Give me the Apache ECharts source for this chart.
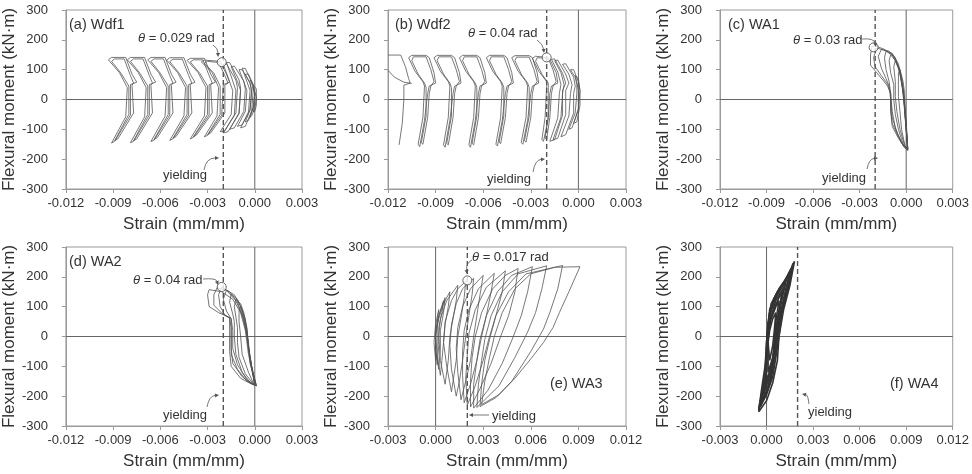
<!DOCTYPE html>
<html><head><meta charset="utf-8">
<script src="https://cdn.jsdelivr.net/npm/echarts@6/dist/echarts.min.js"></script>
<style>html,body{margin:0;padding:0;background:#fff}#c{width:972px;height:474px}</style>
</head><body><div id="c"></div>
<script>
const FONT = '"Liberation Sans", Arial, sans-serif';
const xRangeNeg = [-0.012, 0.003];
const xRangePos = [-0.003, 0.012];
const yRange = [-300, 300];
const xStep = 0.003, yStep = 100;
const xTitle = 'Strain (mm/mm)';
const yTitle = 'Flexural moment (kN·m)';

// (a) Wdf1
const wdf1Loops = [
 [[-0.0091,-146],[-0.0082,-58],[-0.0081,40],[-0.0086,90],[-0.0093,133],[-0.0091,141],[-0.0082,141],[-0.0078,85],[-0.0075,58],[-0.0079,50],[-0.0079,-52],[-0.0089,-140],[-0.0091,-146]],
 [[-0.0089,-138],[-0.0080,-50],[-0.0080,45],[-0.0085,88],[-0.0091,128],[-0.0089,136],[-0.0083,136],[-0.0079,80],[-0.0077,55],[-0.0078,48],[-0.0077,-45],[-0.0087,-132],[-0.0089,-138]],
 [[-0.0079,-145],[-0.0070,-58],[-0.0069,40],[-0.0074,90],[-0.0081,133],[-0.0079,141],[-0.0070,141],[-0.0066,85],[-0.0063,58],[-0.0067,50],[-0.0067,-52],[-0.0077,-140],[-0.0079,-145]],
 [[-0.0077,-138],[-0.0068,-50],[-0.0068,45],[-0.0073,88],[-0.0079,128],[-0.0077,136],[-0.0071,136],[-0.0067,80],[-0.0065,55],[-0.0066,48],[-0.0065,-45],[-0.0075,-132],[-0.0077,-138]],
 [[-0.0066,-141],[-0.0057,-56],[-0.0056,40],[-0.0061,90],[-0.0068,133],[-0.0066,141],[-0.0057,141],[-0.0053,85],[-0.0050,58],[-0.0054,50],[-0.0054,-52],[-0.0064,-136],[-0.0066,-141]],
 [[-0.0064,-134],[-0.0055,-50],[-0.0055,45],[-0.0060,88],[-0.0066,128],[-0.0064,136],[-0.0058,136],[-0.0054,80],[-0.0052,55],[-0.0053,48],[-0.0052,-45],[-0.0062,-128],[-0.0064,-134]],
 [[-0.0054,-137],[-0.0045,-55],[-0.0044,40],[-0.0049,90],[-0.0056,132],[-0.0054,140],[-0.0045,140],[-0.0041,85],[-0.0038,58],[-0.0042,50],[-0.0042,-52],[-0.0052,-132],[-0.0054,-137]],
 [[-0.0052,-130],[-0.0043,-50],[-0.0043,45],[-0.0048,88],[-0.0054,127],[-0.0052,135],[-0.0046,135],[-0.0042,80],[-0.0040,55],[-0.0041,48],[-0.0040,-45],[-0.0050,-124],[-0.0052,-130]],
 [[-0.0041,-132],[-0.0032,-55],[-0.0031,40],[-0.0036,90],[-0.0043,131],[-0.0041,138],[-0.0032,138],[-0.0028,85],[-0.0025,58],[-0.0029,50],[-0.0029,-52],[-0.0039,-127],[-0.0041,-132]],
 [[-0.0039,-125],[-0.0030,-50],[-0.0030,45],[-0.0035,88],[-0.0041,126],[-0.0039,133],[-0.0033,133],[-0.0029,80],[-0.0027,55],[-0.0028,48],[-0.0027,-45],[-0.0037,-119],[-0.0039,-125]],
 [[-0.0032,-125],[-0.0024,-55],[-0.0023,40],[-0.0027,90],[-0.0034,126],[-0.0032,132],[-0.0022,128],[-0.0018,85],[-0.0016,58],[-0.0020,50],[-0.0021,-52],[-0.0030,-120],[-0.0032,-125]],
 [[-0.0030,-118],[-0.0022,-50],[-0.0022,45],[-0.0026,88],[-0.0032,122],[-0.0030,128],[-0.0023,124],[-0.0019,80],[-0.0017,55],[-0.0019,48],[-0.0019,-45],[-0.0028,-112],[-0.0030,-118]],
 [[-0.0022,-108],[-0.0015,-50],[-0.0014,30],[-0.0016,60],[-0.0020,118],[-0.0018,120],[-0.0012,65],[-0.0011,40],[-0.0012,-45],[-0.0019,-105],[-0.0022,-108]],
 [[-0.0020,-112],[-0.0013,-52],[-0.0012,30],[-0.0014,62],[-0.0018,124],[-0.0016,124],[-0.0010,66],[-0.0009,38],[-0.0010,-48],[-0.0017,-108],[-0.0020,-112]],
 [[-0.0016,-100],[-0.0010,-45],[-0.0009,30],[-0.0011,60],[-0.0015,110],[-0.0013,112],[-0.0007,62],[-0.0006,35],[-0.0007,-40],[-0.0013,-95],[-0.0016,-100]],
 [[-0.0011,-90],[-0.0006,-40],[-0.0005,30],[-0.0007,60],[-0.0010,100],[-0.0008,100],[-0.0003,55],[-0.0002,30],[-0.0003,-35],[-0.0008,-85],[-0.0011,-90]],
 [[-0.0009,-95],[-0.0004,-42],[-0.0003,30],[-0.0005,60],[-0.0008,105],[-0.0006,104],[-0.0002,58],[-0.0001,30],[-0.0002,-38],[-0.0006,-90],[-0.0009,-95]],
 [[-0.0006,-75],[-0.0003,-35],[-0.0002,25],[-0.0003,55],[-0.0006,85],[-0.0004,85],[-0.0001,50],[0.0000,20],[-0.0001,-30],[-0.0004,-70],[-0.0006,-75]],
 [[-0.0003,-60],[-0.0001,-25],[0.0000,20],[-0.0001,45],[-0.0003,65],[-0.0002,65],[0.0001,35],[0.0001,0],[0.0000,-30],[-0.0002,-55],[-0.0003,-60]],
 [[-0.0001,-40],[0.0000,-10],[0.0000,20],[-0.0001,40],[0.0000,40],[0.0001,10],[0.0001,-20],[0.0000,-40],[-0.0001,-40]]
];
const wdf1Theta = [-0.0021, 125];

// (b) Wdf2
const wdf2Loops = [
 [[-0.0120,149],[-0.0112,149],[-0.0109,110],[-0.0107,70],[-0.0106,55],[-0.0110,48],[-0.0110,0],[-0.0111,-80],[-0.0113,-152]],
 [[-0.0120,98],[-0.0116,75],[-0.0110,58],[-0.0105,54]],
 [[-0.0100,-158],[-0.0097,-70],[-0.0095,20],[-0.0094,45],[-0.0090,55],[-0.0091,90],[-0.0094,140],[-0.0096,148],[-0.0105,148],[-0.0107,140],[-0.0103,95],[-0.0098,60],[-0.0097,45],[-0.0098,-60],[-0.0101,-150],[-0.0100,-158]],
 [[-0.0098,-150],[-0.0095,-60],[-0.0094,20],[-0.0093,45],[-0.0091,60],[-0.0093,100],[-0.0096,143],[-0.0104,143],[-0.0105,130],[-0.0101,85],[-0.0097,55],[-0.0096,40],[-0.0096,-55],[-0.0099,-145],[-0.0098,-150]],
 [[-0.0084,-160],[-0.0081,-70],[-0.0079,20],[-0.0078,45],[-0.0074,55],[-0.0075,90],[-0.0078,140],[-0.0080,148],[-0.0089,148],[-0.0091,140],[-0.0087,95],[-0.0082,60],[-0.0081,45],[-0.0082,-60],[-0.0085,-152],[-0.0084,-160]],
 [[-0.0082,-152],[-0.0079,-60],[-0.0078,20],[-0.0077,45],[-0.0075,60],[-0.0077,100],[-0.0080,143],[-0.0088,143],[-0.0089,130],[-0.0085,85],[-0.0081,55],[-0.0080,40],[-0.0080,-55],[-0.0083,-147],[-0.0082,-152]],
 [[-0.0068,-160],[-0.0065,-70],[-0.0063,20],[-0.0062,45],[-0.0058,55],[-0.0059,90],[-0.0062,140],[-0.0064,148],[-0.0073,148],[-0.0075,140],[-0.0071,95],[-0.0066,60],[-0.0065,45],[-0.0066,-60],[-0.0069,-152],[-0.0068,-160]],
 [[-0.0066,-152],[-0.0063,-60],[-0.0062,20],[-0.0061,45],[-0.0059,60],[-0.0061,100],[-0.0064,143],[-0.0072,143],[-0.0073,130],[-0.0069,85],[-0.0065,55],[-0.0064,40],[-0.0064,-55],[-0.0067,-147],[-0.0066,-152]],
 [[-0.0051,-156],[-0.0048,-70],[-0.0046,20],[-0.0045,45],[-0.0041,55],[-0.0042,90],[-0.0045,140],[-0.0047,148],[-0.0056,148],[-0.0058,140],[-0.0054,95],[-0.0049,60],[-0.0048,45],[-0.0049,-60],[-0.0052,-150],[-0.0051,-156]],
 [[-0.0049,-148],[-0.0046,-60],[-0.0045,20],[-0.0044,45],[-0.0042,60],[-0.0044,100],[-0.0047,143],[-0.0055,143],[-0.0056,130],[-0.0052,85],[-0.0048,55],[-0.0047,40],[-0.0047,-55],[-0.0050,-143],[-0.0049,-148]],
 [[-0.0035,-150],[-0.0032,-70],[-0.0030,20],[-0.0029,45],[-0.0025,55],[-0.0026,90],[-0.0029,140],[-0.0031,147],[-0.0040,147],[-0.0042,140],[-0.0038,95],[-0.0033,60],[-0.0032,45],[-0.0033,-60],[-0.0036,-144],[-0.0035,-150]],
 [[-0.0033,-143],[-0.0030,-60],[-0.0029,20],[-0.0028,45],[-0.0026,60],[-0.0028,100],[-0.0031,142],[-0.0039,142],[-0.0040,130],[-0.0036,85],[-0.0032,55],[-0.0031,40],[-0.0031,-55],[-0.0034,-138],[-0.0033,-143]],
 [[-0.0022,-140],[-0.0019,-65],[-0.0018,20],[-0.0017,45],[-0.0013,55],[-0.0014,90],[-0.0018,135],[-0.0020,141],[-0.0027,145],[-0.0029,138],[-0.0025,95],[-0.0020,60],[-0.0020,45],[-0.0021,-60],[-0.0023,-135],[-0.0022,-140]],
 [[-0.0020,-134],[-0.0018,-60],[-0.0017,20],[-0.0016,45],[-0.0014,60],[-0.0016,100],[-0.0019,138],[-0.0026,140],[-0.0027,128],[-0.0023,85],[-0.0019,55],[-0.0019,40],[-0.0019,-55],[-0.0021,-130],[-0.0020,-134]],
 [[-0.0018,-140],[-0.0013,-62],[-0.0012,20],[-0.0011,50],[-0.0013,92],[-0.0017,135],[-0.0015,136],[-0.0010,88],[-0.0008,55],[-0.0010,30],[-0.0010,-52],[-0.0015,-135],[-0.0018,-140]],
 [[-0.0016,-135],[-0.0011,-60],[-0.0010,20],[-0.0009,50],[-0.0011,90],[-0.0015,130],[-0.0013,132],[-0.0008,85],[-0.0006,55],[-0.0008,30],[-0.0008,-50],[-0.0013,-130],[-0.0016,-135]],
 [[-0.0011,-125],[-0.0006,-55],[-0.0005,20],[-0.0004,50],[-0.0006,85],[-0.0010,118],[-0.0008,120],[-0.0003,75],[-0.0002,45],[-0.0003,20],[-0.0003,-45],[-0.0008,-118],[-0.0011,-125]],
 [[-0.0006,-100],[-0.0002,-45],[-0.0001,20],[-0.0001,50],[-0.0002,75],[-0.0005,100],[-0.0003,100],[0.0000,60],[0.0001,30],[0.0000,-35],[-0.0004,-95],[-0.0006,-100]],
 [[-0.0003,-80],[0.0000,-30],[0.0000,30],[-0.0001,60],[-0.0002,80],[0.0000,70],[0.0001,30],[0.0001,-20],[-0.0001,-75],[-0.0003,-80]]
];
const wdf2Theta = [-0.0020, 141];

// (c) WA1
const wa1Loops = [
 [[0.0001,-160],[0.0000,-100],[-0.0001,-40],[-0.0001,20],[-0.0002,60],[-0.0004,100],[-0.0005,90],[-0.0005,50],[-0.0005,10],[-0.0004,-40],[-0.0003,-100],[-0.0001,-150],[0.0001,-160]],
 [[0.0001,-165],[0.0000,-100],[-0.0001,-40],[-0.0002,20],[-0.0003,70],[-0.0005,110],[-0.0007,130],[-0.0008,110],[-0.0007,60],[-0.0007,10],[-0.0006,-40],[-0.0004,-100],[-0.0001,-155],[0.0001,-165]],
 [[0.0001,-165],[0.0000,-100],[-0.0001,-30],[-0.0002,30],[-0.0004,90],[-0.0007,130],[-0.0010,150],[-0.0011,130],[-0.0010,90],[-0.0008,50],[-0.0008,0],[-0.0007,-50],[-0.0005,-100],[-0.0002,-150],[0.0001,-165]],
 [[0.0001,-168],[0.0000,-100],[-0.0001,-20],[-0.0002,40],[-0.0004,100],[-0.0008,145],[-0.0013,162],[-0.0014,140],[-0.0013,100],[-0.0011,60],[-0.0010,20],[-0.0009,-40],[-0.0007,-95],[-0.0003,-145],[0.0001,-168]],
 [[0.0001,-168],[0.0000,-90],[-0.0001,0],[-0.0003,70],[-0.0005,120],[-0.0009,155],[-0.0016,168],[-0.0018,145],[-0.0016,105],[-0.0013,70],[-0.0011,45],[-0.0010,0],[-0.0009,-60],[-0.0006,-110],[-0.0002,-155],[0.0001,-168]],
 [[0.0001,-170],[0.0000,-80],[-0.0002,20],[-0.0004,90],[-0.0007,140],[-0.0011,162],[-0.0019,172],[-0.0021,140],[-0.0020,110],[-0.0016,80],[-0.0012,52],[-0.0010,20],[-0.0010,-30],[-0.0009,-80],[-0.0005,-125],[-0.0001,-160],[0.0001,-170]],
 [[0.0001,-170],[0.0000,-70],[-0.0002,30],[-0.0005,110],[-0.0009,150],[-0.0014,168],[-0.0020,180],[-0.0022,178],[-0.0023,150],[-0.0023,115],[-0.0019,90],[-0.0015,65],[-0.0012,45],[-0.0010,20],[-0.0010,-40],[-0.0009,-90],[-0.0005,-130],[-0.0001,-162],[0.0001,-170]]
];
const wa1Theta = [-0.0021, 175];

// (d) WA2
const wa2Loops = [
 [[0.0000,-160],[-0.0002,-100],[-0.0004,-40],[-0.0005,20],[-0.0006,60],[-0.0009,100],[-0.0010,85],[-0.0010,50],[-0.0009,0],[-0.0008,-60],[-0.0004,-120],[-0.0001,-155],[0.0000,-160]],
 [[0.0000,-162],[-0.0002,-100],[-0.0004,-40],[-0.0005,20],[-0.0007,80],[-0.0009,110],[-0.0012,125],[-0.0013,100],[-0.0012,65],[-0.0011,30],[-0.0011,-20],[-0.0010,-70],[-0.0006,-125],[-0.0001,-158],[0.0000,-162]],
 [[0.0001,-165],[-0.0002,-100],[-0.0004,-30],[-0.0005,30],[-0.0008,90],[-0.0011,125],[-0.0015,142],[-0.0016,115],[-0.0014,75],[-0.0013,50],[-0.0013,0],[-0.0012,-60],[-0.0008,-120],[-0.0002,-160],[0.0001,-165]],
 [[0.0001,-165],[-0.0003,-90],[-0.0004,-20],[-0.0006,40],[-0.0009,100],[-0.0013,140],[-0.0018,155],[-0.0020,125],[-0.0018,85],[-0.0015,60],[-0.0014,20],[-0.0014,-40],[-0.0011,-95],[-0.0005,-145],[0.0001,-165]],
 [[0.0001,-165],[-0.0003,-80],[-0.0005,0],[-0.0007,60],[-0.0011,115],[-0.0016,150],[-0.0021,165],[-0.0023,140],[-0.0022,100],[-0.0019,72],[-0.0015,60],[-0.0015,0],[-0.0015,-60],[-0.0011,-110],[-0.0005,-150],[0.0001,-165]],
 [[0.0000,-163],[-0.0003,-70],[-0.0005,10],[-0.0008,70],[-0.0012,120],[-0.0018,155],[-0.0024,163],[-0.0026,140],[-0.0026,105],[-0.0021,78],[-0.0016,62],[-0.0015,30],[-0.0015,-40],[-0.0014,-90],[-0.0008,-135],[-0.0002,-158],[0.0000,-163]],
 [[0.0000,-160],[-0.0004,-60],[-0.0006,20],[-0.0009,80],[-0.0014,125],[-0.0021,150],[-0.0029,157],[-0.0030,140],[-0.0029,100],[-0.0023,80],[-0.0016,63],[-0.0016,20],[-0.0016,-50],[-0.0015,-100],[-0.0009,-140],[-0.0003,-157],[0.0000,-160]]
];
const wa2Theta = [-0.0021, 166];

// (e) WA3
const wa3Loops = [
 [[0.0000,-80],[-0.0001,-20],[0.0000,40],[0.0002,90],[0.0001,50],[0.0001,0],[0.0001,-50],[0.0000,-80]],
 [[0.0001,-95],[0.0000,-40],[0.0000,20],[0.0002,70],[0.0005,120],[0.0004,80],[0.0002,30],[0.0002,-30],[0.0001,-95]],
 [[0.0002,-110],[0.0000,-50],[0.0000,10],[0.0002,70],[0.0006,130],[0.0005,80],[0.0003,20],[0.0003,-40],[0.0002,-110]],
 [[0.0003,-130],[0.0001,-60],[0.0000,0],[0.0002,60],[0.0005,110],[0.0009,150],[0.0008,100],[0.0006,40],[0.0005,-20],[0.0004,-80],[0.0003,-130]],
 [[0.0006,-160],[0.0003,-80],[0.0002,0],[0.0003,60],[0.0007,120],[0.0014,172],[0.0013,120],[0.0011,60],[0.0009,0],[0.0008,-80],[0.0006,-160]],
 [[0.0010,-185],[0.0007,-100],[0.0005,-20],[0.0006,50],[0.0010,120],[0.0014,160],[0.0019,185],[0.0018,130],[0.0016,60],[0.0014,0],[0.0013,-80],[0.0011,-150],[0.0010,-185]],
 [[0.0013,-200],[0.0010,-110],[0.0009,-30],[0.0010,40],[0.0013,110],[0.0017,160],[0.0024,195],[0.0023,140],[0.0021,70],[0.0019,0],[0.0017,-80],[0.0015,-150],[0.0013,-200]],
 [[0.0016,-212],[0.0014,-120],[0.0013,-40],[0.0014,30],[0.0017,100],[0.0022,160],[0.0030,205],[0.0028,140],[0.0026,70],[0.0024,0],[0.0022,-80],[0.0019,-150],[0.0016,-212]],
 [[0.0018,-222],[0.0017,-130],[0.0017,-50],[0.0018,20],[0.0021,90],[0.0027,160],[0.0037,212],[0.0035,150],[0.0032,70],[0.0029,0],[0.0026,-80],[0.0022,-160],[0.0018,-222]],
 [[0.0020,-230],[0.0019,-140],[0.0020,-60],[0.0021,10],[0.0025,90],[0.0032,165],[0.0044,220],[0.0042,150],[0.0038,70],[0.0034,0],[0.0030,-80],[0.0025,-165],[0.0020,-230]],
 [[0.0022,-236],[0.0022,-150],[0.0023,-70],[0.0025,0],[0.0029,80],[0.0036,160],[0.0044,205],[0.0052,228],[0.0050,150],[0.0046,70],[0.0041,0],[0.0035,-90],[0.0028,-175],[0.0022,-236]],
 [[0.0024,-240],[0.0024,-160],[0.0026,-80],[0.0028,-10],[0.0032,70],[0.0039,150],[0.0048,205],[0.0061,234],[0.0058,150],[0.0054,70],[0.0049,0],[0.0042,-90],[0.0033,-180],[0.0024,-240]],
 [[0.0026,-238],[0.0027,-160],[0.0029,-80],[0.0031,-10],[0.0035,70],[0.0042,150],[0.0052,210],[0.0070,237],[0.0067,160],[0.0063,80],[0.0058,15],[0.0050,-70],[0.0040,-165],[0.0026,-238]],
 [[0.0028,-235],[0.0029,-160],[0.0031,-80],[0.0034,-10],[0.0038,70],[0.0046,150],[0.0057,210],[0.0080,238],[0.0077,160],[0.0072,80],[0.0068,25],[0.0060,-50],[0.0048,-150],[0.0038,-205],[0.0028,-235]],
 [[0.0029,-228],[0.0031,-150],[0.0034,-70],[0.0037,0],[0.0042,80],[0.0050,160],[0.0060,210],[0.0075,232],[0.0091,234],[0.0084,150],[0.0078,80],[0.0074,30],[0.0068,-20],[0.0060,-75],[0.0050,-140],[0.0040,-195],[0.0029,-228]]
];
const wa3Theta = [0.0020, 188];

// (f) WA4
const wa4Loops = [
 [[0.0002,-80],[0.0004,-30],[0.0005,20],[0.0006,80],[0.0004,60],[0.0002,20],[0.0001,-20],[0.0002,-80]],
 [[0.0001,-120],[0.0004,-70],[0.0005,-10],[0.0006,50],[0.0008,120],[0.0006,100],[0.0003,60],[0.0001,10],[0.0001,-50],[0.0001,-120]],
 [[0.0000,-150],[0.0003,-100],[0.0005,-40],[0.0006,20],[0.0008,80],[0.0010,150],[0.0008,130],[0.0005,95],[0.0002,50],[0.0001,0],[0.0000,-60],[0.0000,-110],[0.0000,-150]],
 [[-0.0001,-175],[0.0002,-120],[0.0005,-60],[0.0006,0],[0.0007,60],[0.0009,120],[0.0012,175],[0.0010,155],[0.0006,120],[0.0003,70],[0.0001,20],[0.0000,-40],[0.0000,-110],[-0.0001,-175]],
 [[-0.0002,-195],[0.0001,-150],[0.0004,-90],[0.0006,-30],[0.0007,30],[0.0009,100],[0.0011,150],[0.0013,195],[0.0011,175],[0.0007,140],[0.0003,90],[0.0001,40],[0.0000,-20],[0.0000,-90],[-0.0001,-150],[-0.0002,-195]],
 [[-0.0003,-215],[0.0001,-170],[0.0004,-110],[0.0006,-50],[0.0007,10],[0.0009,80],[0.0012,150],[0.0015,215],[0.0013,195],[0.0009,160],[0.0005,120],[0.0002,70],[0.0001,10],[0.0000,-60],[-0.0001,-130],[-0.0003,-215]],
 [[-0.0004,-228],[0.0000,-185],[0.0003,-125],[0.0005,-60],[0.0007,10],[0.0010,90],[0.0013,165],[0.0016,228],[0.0014,205],[0.0010,170],[0.0005,130],[0.0002,80],[0.0001,20],[0.0000,-50],[-0.0001,-120],[-0.0004,-228]],
 [[-0.0004,-235],[0.0000,-195],[0.0004,-135],[0.0006,-70],[0.0008,0],[0.0010,80],[0.0014,160],[0.0017,235],[0.0015,215],[0.0011,180],[0.0006,140],[0.0002,90],[0.0001,30],[0.0000,-40],[0.0000,-110],[-0.0002,-175],[-0.0004,-235]],
 [[-0.0005,-245],[-0.0001,-200],[0.0003,-140],[0.0005,-75],[0.0007,-5],[0.0009,70],[0.0013,150],[0.0017,245],[0.0016,225],[0.0012,185],[0.0007,150],[0.0003,100],[0.0001,40],[0.0000,-30],[-0.0001,-100],[-0.0003,-170],[-0.0005,-245]],
 [[-0.0005,-252],[0.0000,-215],[0.0004,-155],[0.0007,-80],[0.0008,0],[0.0011,90],[0.0015,170],[0.0018,252],[0.0016,230],[0.0012,190],[0.0008,160],[0.0003,110],[0.0001,50],[0.0000,-20],[0.0000,-90],[-0.0002,-160],[-0.0005,-240],[-0.0005,-252]]
];

const yieldStrain = [-0.002, -0.002, -0.002, -0.002, 0.002, 0.002];

const panels = [
 {loops: wdf1Loops, x: xRangeNeg, grid:{left:62, top:10, width:240, height:179}, yld: yieldStrain[0], theta: wdf1Theta, lw:0.8, col:'#555'},
 {loops: wdf2Loops, x: xRangeNeg, grid:{left:388, top:10, width:238, height:179}, yld: yieldStrain[1], theta: wdf2Theta, lw:0.8, col:'#555'},
 {loops: wa1Loops, x: xRangeNeg, grid:{left:720, top:10, width:240, height:179}, yld: yieldStrain[2], theta: wa1Theta, lw:0.8, col:'#505050'},
 {loops: wa2Loops, x: xRangeNeg, grid:{left:62, top:247, width:240, height:179}, yld: yieldStrain[3], theta: wa2Theta, lw:0.8, col:'#505050'},
 {loops: wa3Loops, x: xRangePos, grid:{left:388, top:247, width:238, height:179}, yld: yieldStrain[4], theta: wa3Theta, lw:0.8, col:'#555'},
 {loops: wa4Loops, x: xRangePos, grid:{left:720, top:247, width:240, height:179}, yld: yieldStrain[5], theta: null, lw:1.6, col:'#333'}
];

const TXT = '#333';
const FRAME = '#9a9a9a';

const grids = [], xAxes = [], yAxes = [], series = [];
function refLine(i, data, style, z) {
  return {type:'line', xAxisIndex:i, yAxisIndex:i, data:data, symbol:'none', silent:true,
    animation:false, z:z, lineStyle:style};
}
panels.forEach((p, i) => {
  grids.push(Object.assign({show:true, borderColor:FRAME, borderWidth:1, backgroundColor:'#fff'}, p.grid));
  xAxes.push({type:'value', gridIndex:i, min:p.x[0], max:p.x[1], interval:xStep,
    axisLine:{show:true, onZero:false, lineStyle:{color:FRAME}},
    axisTick:{show:true, inside:false, length:4, lineStyle:{color:FRAME}},
    splitLine:{show:false},
    axisLabel:{fontSize:13, fontFamily:FONT, color:TXT, margin:8,
      formatter: v => Math.abs(v) < 1e-9 ? '0.000' : v.toFixed(3)},
    name:xTitle, nameLocation:'middle', nameGap:27,
    nameTextStyle:{fontSize:17, fontFamily:FONT, color:TXT}});
  yAxes.push({type:'value', gridIndex:i, min:yRange[0], max:yRange[1], interval:yStep,
    axisLine:{show:true, onZero:false, lineStyle:{color:FRAME}},
    axisTick:{show:true, inside:false, length:4, lineStyle:{color:FRAME}},
    splitLine:{show:false},
    axisLabel:{fontSize:13, fontFamily:FONT, color:TXT, margin:18},
    name:yTitle, nameLocation:'middle', nameGap:37, nameRotate:90,
    nameTextStyle:{fontSize:17, fontFamily:FONT, color:TXT}});
  series.push(refLine(i, [[0, yRange[0]], [0, yRange[1]]], {color:'#666', width:1}, 1));
  series.push(refLine(i, [[p.x[0], 0], [p.x[1], 0]], {color:'#666', width:1}, 1));
  series.push(refLine(i, [[p.yld, yRange[0]], [p.yld, yRange[1]]], {color:'#555', width:1.4, type:[5,3]}, 2));
  p.loops.forEach(loop => {
    series.push({type:'line', xAxisIndex:i, yAxisIndex:i, data:loop, symbol:'none', silent:true,
      animation:false, z:3, lineStyle:{color:p.col, width:p.lw}});
  });
  if (p.theta) {
    series.push({type:'scatter', xAxisIndex:i, yAxisIndex:i, data:[p.theta], symbol:'circle', symbolSize:9,
      silent:true, animation:false, z:6, itemStyle:{color:'#fff', borderColor:'#444', borderWidth:1}});
  }
});

function text(x, y, t, size, opts) {
  return Object.assign({type:'text', x:x, y:y, z:100, silent:true,
    style:Object.assign({text:t, font: size + 'px ' + FONT, fill:TXT, align:'left', verticalAlign:'middle'}, opts || {})});
}
function thetaText(x, y, val) {
  return {type:'text', x:x, y:y, z:100, silent:true,
    style:{text:'{i|θ} = ' + val + ' rad', fill:TXT, font:'13px ' + FONT, align:'left', verticalAlign:'middle',
      rich:{i:{fontStyle:'italic', fontSize:13, fontFamily:FONT, fill:TXT}}}};
}
function arrow(p0, c, p1) {
  const a = Math.atan2(p1[1]-c[1], p1[0]-c[0]);
  const L = 4, W = 2;
  const bx = p1[0] - L*Math.cos(a), by = p1[1] - L*Math.sin(a);
  return [
    {type:'bezierCurve', z:100, silent:true, shape:{x1:p0[0], y1:p0[1], x2:bx, y2:by, cpx1:c[0], cpy1:c[1]},
      style:{stroke:'#555', lineWidth:0.8, fill:null}},
    {type:'polygon', z:100, silent:true, shape:{points:[[p1[0],p1[1]],[bx - W*Math.sin(a), by + W*Math.cos(a)],[bx + W*Math.sin(a), by - W*Math.cos(a)]]},
      style:{fill:'#555'}}
  ];
}

const graphics = [
  text(69, 25, '(a) Wdf1', 14.5),
  text(395, 25, '(b) Wdf2', 14.5),
  text(728, 25, '(c) WA1', 14.5),
  text(69, 262, '(d) WA2', 14.5),
  text(550, 384, '(e) WA3', 14.5),
  text(890, 384, '(f) WA4', 14.5),
  thetaText(138, 38, '0.029'),
  thetaText(468, 33, '0.04'),
  thetaText(793, 40, '0.03'),
  thetaText(133, 280, '0.04'),
  thetaText(472, 257, '0.017'),
  text(163, 175, 'yielding', 13),
  text(487, 179, 'yielding', 13),
  text(822, 178, 'yielding', 13),
  text(163, 415, 'yielding', 13),
  text(492, 416, 'yielding', 13),
  text(808, 412, 'yielding', 13),
  ...arrow([213,45],[218,48],[218,57]),
  ...arrow([204,170],[206,158],[219,158]),
  ...arrow([537,40],[543,44],[544,53]),
  ...arrow([533,172],[535,160],[545,159]),
  ...arrow([862,39],[874,38],[876,47]),
  ...arrow([867,169],[869,159],[878,158]),
  ...arrow([203,279],[216,278],[218,285]),
  ...arrow([207,407],[209,396],[219,395]),
  ...arrow([472,260],[466,263],[467,274]),
  ...arrow([489,415],[478,415],[469,415]),
  ...arrow([809,404],[808,395],[802,394])
];

const chart = echarts.init(document.getElementById('c'), null, {renderer:'canvas'});
chart.setOption({
  animation:false,
  backgroundColor:'#fff',
  textStyle:{fontFamily:FONT},
  grid:grids, xAxis:xAxes, yAxis:yAxes, series:series, graphic:graphics
});
</script>
</body></html>
